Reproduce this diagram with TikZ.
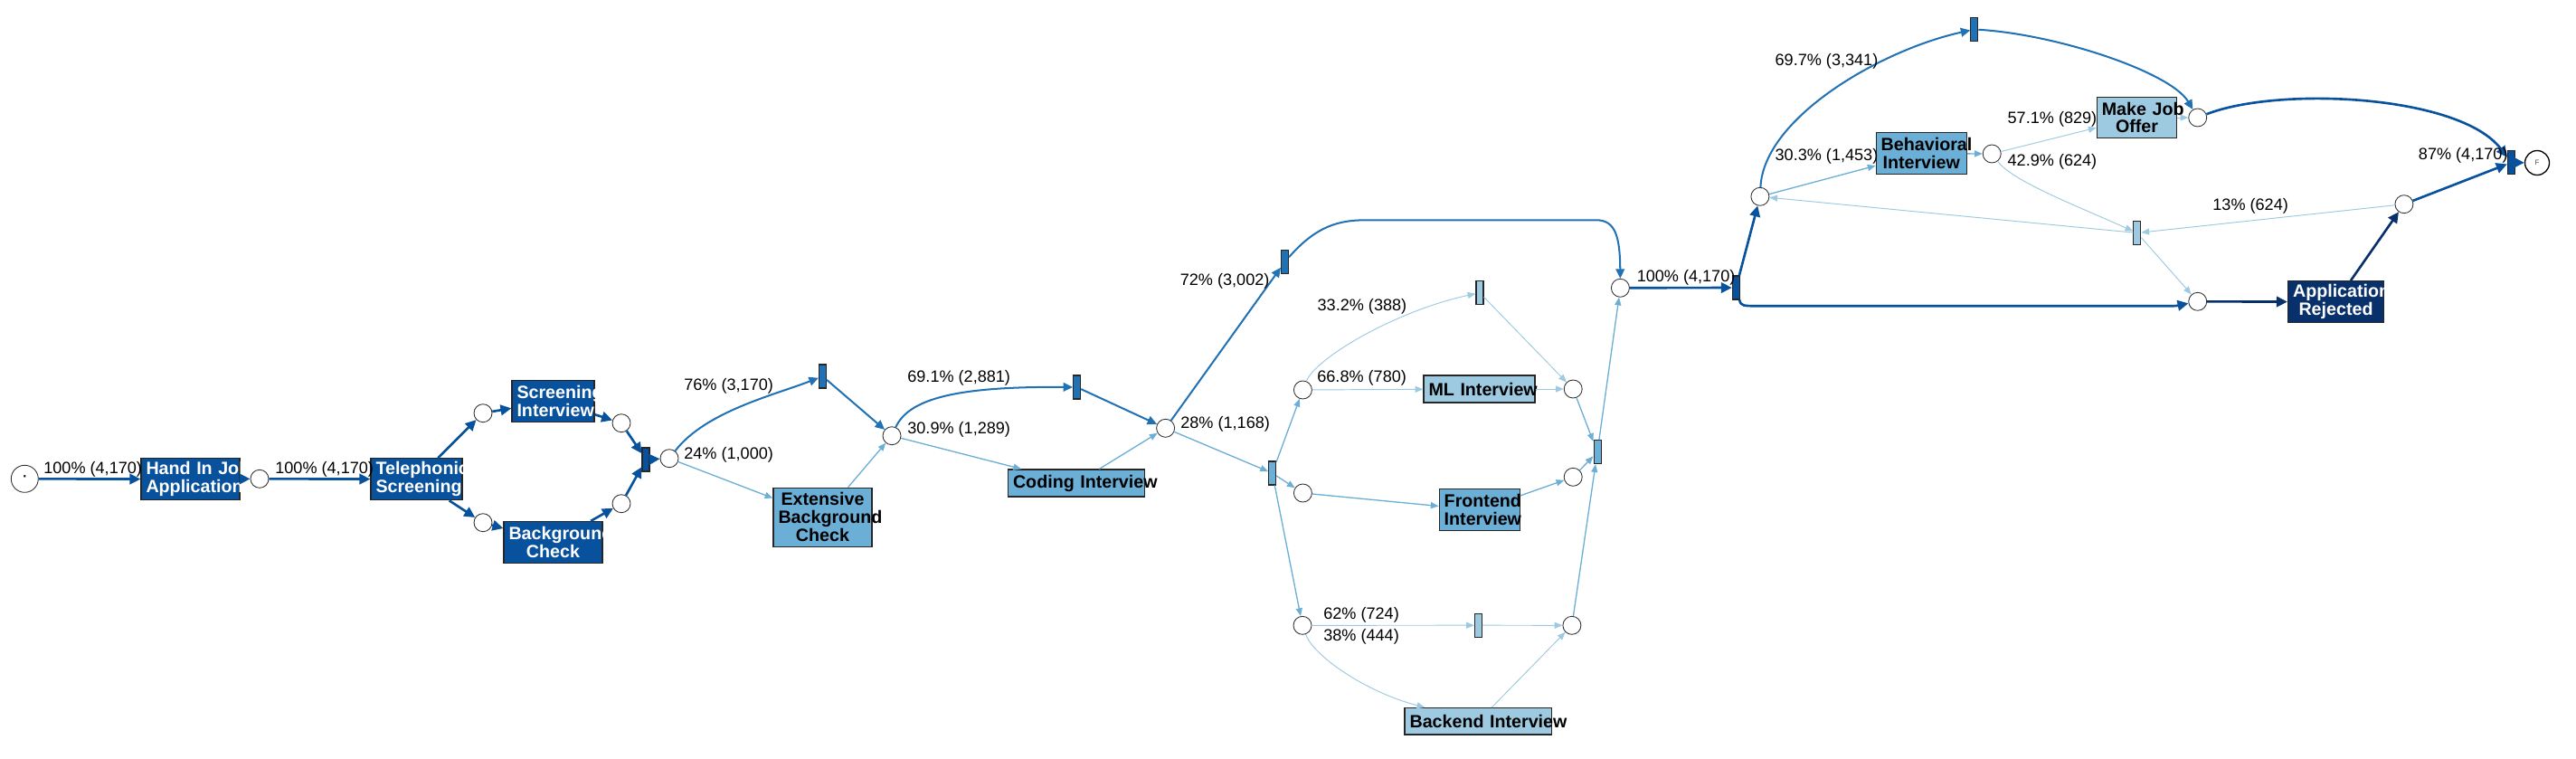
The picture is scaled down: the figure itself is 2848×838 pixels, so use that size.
\documentclass[tikz,border=0pt]{standalone}
\usepackage{fontspec}
\setmainfont{Liberation Sans}
\usepackage{tikz}
\usetikzlibrary{arrows.meta}

\definecolor{blueA}{HTML}{08306B}
\definecolor{blueB}{HTML}{08519C}
\definecolor{blueC}{HTML}{2171B5}
\definecolor{blueD}{HTML}{6BAED6}
\definecolor{blueE}{HTML}{9ECAE1}

\newcommand{\lblfont}{\fontsize{10.3}{12}\selectfont}
\newcommand{\boxfont}{\bfseries\fontsize{11.2}{11.3}\selectfont}

\tikzset{
    place/.style={circle, draw=black!80, line width=0.5pt, fill=white, minimum size=0.4cm, inner sep=0pt},
    trans/.style={rectangle, draw=black!85, line width=0.6pt, minimum width=0.16cm, minimum height=0.52cm, inner sep=0pt},
    task/.style={rectangle, draw=black!85, line width=0.7pt, inner xsep=0.11cm, inner ysep=0pt, align=center, font=\boxfont},
    lbl/.style={anchor=west, inner sep=0pt, font=\lblfont},
    ethick/.style={line width=1.5pt, blueB, -{Triangle[length=6.8pt,width=6.5pt]}},
    erej/.style={line width=1.5pt, blueA, -{Triangle[length=6.8pt,width=6.5pt]}},
    emed/.style={line width=1.15pt, blueC, -{Triangle[length=6pt,width=5.5pt]}},
    ethin/.style={line width=0.75pt, blueD, -{Triangle[length=5pt,width=4pt]}},
    elight/.style={line width=0.55pt, blueE, -{Triangle[length=5pt,width=4pt]}}
}

\begin{document}
\begin{tikzpicture}[x=0.02cm, y=-0.02cm]
        \useasboundingbox (0,0) rectangle (2848,838);

        % activities
        \node[task, fill=blueB, text=white, text width=1.96cm, minimum height=0.92cm] (hand) at (210.5,529.7) {\mbox{Hand In Job}\\\mbox{Application}};
        \node[task, fill=blueB, text=white, text width=1.80cm, minimum height=0.92cm] (tel) at (460.5,529.7) {\mbox{Telephonic}\\\mbox{Screening}};
        \node[task, fill=blueB, text=white, text width=1.60cm, minimum height=0.92cm] (scr) at (611.5,443.3) {\mbox{Screening}\\\mbox{Interview}};
        \node[task, fill=blueB, text=white, text width=1.96cm, minimum height=0.92cm] (bgc) at (611.5,599.5) {\mbox{Background}\\\mbox{Check}};
        \node[task, fill=blueD, text width=1.96cm, minimum height=1.30cm] (ebc) at (909.5,571.7) {\mbox{Extensive}\\\mbox{Background}\\\mbox{Check}};
        \node[task, fill=blueD, text width=2.80cm, minimum height=0.60cm] (cod) at (1190,534) {\mbox{Coding Interview}};
        \node[task, fill=blueE, text width=2.24cm, minimum height=0.60cm] (ml) at (1635.5,430) {\mbox{ML Interview}};
        \node[task, fill=blueD, text width=1.56cm, minimum height=0.92cm] (fe) at (1635.7,563.8) {\mbox{Frontend}\\\mbox{Interview}};
        \node[task, fill=blueE, text width=3.03cm, minimum height=0.59cm] (be) at (1634.3,797.3) {\mbox{Backend Interview}};
        \node[task, fill=blueD, text width=1.78cm, minimum height=0.92cm] (beh) at (2124.2,169.7) {\mbox{Behavioral}\\\mbox{Interview}};
        \node[task, fill=blueE, text width=1.55cm, minimum height=0.91cm] (mjo) at (2362.5,130) {\mbox{Make Job}\\\mbox{Offer}};
        \node[task, fill=blueA, text=white, text width=1.90cm, minimum height=0.92cm] (rej) at (2582.5,333.7) {\mbox{Application}\\\mbox{Rejected}};

        % places
        \node[place, minimum size=0.6cm] (start) at (27.3,529.3) {\fontsize{12}{12}\selectfont ·};
        \node[place] (p1) at (287,529.3) {};
        \node[place] (p2a) at (534,456.7) {};
        \node[place] (p2b) at (534,577.7) {};
        \node[place] (p3a) at (687,467.7) {};
        \node[place] (p3b) at (687,556.7) {};
        \node[place] (p4) at (740,506.7) {};
        \node[place] (p5) at (986,481.7) {};
        \node[place] (p6) at (1288.6,473.3) {};
        \node[place] (p7) at (1791.4,318.3) {};
        \node[place] (p8) at (1440.4,431) {};
        \node[place] (p9) at (1739.2,430) {};
        \node[place] (p10) at (1440.4,545) {};
        \node[place] (p11) at (1739.2,527.3) {};
        \node[place] (p12) at (1440,691.3) {};
        \node[place] (p13) at (1737.9,691.3) {};
        \node[place] (p14) at (1945.9,217.3) {};
        \node[place] (p15) at (2202.2,170) {};
        \node[place] (p16) at (2429.7,130) {};
        \node[place] (p17) at (2429.7,333.3) {};
        \node[place] (p18) at (2657.9,225.7) {};
        \node[place, minimum size=0.54cm, line width=0.75pt, draw=black] (fin) at (2805,180) {\fontsize{4.5}{4.5}\selectfont\color{black!70}F};

        % transitions
        \node[trans, fill=blueB] (t1) at (714,508) {};
        \node[trans, fill=blueC] (t2) at (909.5,416) {};
        \node[trans, fill=blueC] (t3) at (1190.6,428) {};
        \node[trans, fill=blueC] (t4) at (1420.5,289.5) {};
        \node[trans, fill=blueD] (t5) at (1406.6,523) {};
        \node[trans, fill=blueB] (t6) at (1919.3,318) {};
        \node[trans, fill=blueE] (t7) at (1636,323.7) {};
        \node[trans, fill=blueD] (t8) at (1766,499.7) {};
        \node[trans, fill=blueE] (t9) at (1634.4,691.2) {};
        \node[trans, fill=blueC] (t10) at (2182.9,32.5) {};
        \node[trans, fill=blueE] (t11) at (2362.8,257.5) {};
        \node[trans, fill=blueB] (t12) at (2776.3,179.7) {};

        % screening part
        \draw[ethick] (start) -- (hand);
        \draw[ethick] (hand) -- (p1);
        \draw[ethick] (p1) -- (tel);
        \draw[ethick] (tel) -- (p2a);
        \draw[ethick] (tel) -- (p2b);
        \draw[ethick] (p2a) -- (scr);
        \draw[ethick] (p2b) -- (bgc);
        \draw[ethick] (scr) -- (p3a);
        \draw[ethick] (bgc) -- (p3b);
        \draw[ethick] (p3a) -- (t1);
        \draw[ethick] (p3b) -- (t1);
        \draw[ethick] (t1) -- (p4);

        % background check and coding
        \draw[emed] (p4) .. controls (780,455) and (855,437) .. (t2);
        \draw[ethin] (p4) -- (ebc);
        \draw[emed] (t2) -- (p5);
        \draw[ethin] (ebc) -- (p5);
        \draw[emed] (p5) .. controls (1005,440) and (1060,427) .. (t3);
        \draw[ethin] (p5) -- (cod);
        \draw[emed] (t3) -- (p6);
        \draw[ethin] (cod) -- (p6);
        \draw[emed] (p6) -- (t4);
        \draw[ethin] (p6) -- (t5);
        \draw[emed] (t4) .. controls (1455,250) and (1480,243.3) .. (1510,243.3) -- (1765,243.3) .. controls (1786,243.3) and (1791,262) .. (p7);

        % technical interviews
        \draw[ethin] (t5) -- (p8);
        \draw[ethin] (t5) -- (p10);
        \draw[ethin] (t5) -- (p12);
        \draw[elight] (p8) .. controls (1455,395) and (1545,343) .. (t7);
        \draw[elight] (p8) -- (ml);
        \draw[elight] (t7) -- (p9);
        \draw[elight] (ml) -- (p9);
        \draw[ethin] (p10) -- (fe);
        \draw[ethin] (fe) -- (p11);
        \draw[elight] (p12) -- (t9);
        \draw[elight] (p12) .. controls (1452,725) and (1510,765) .. (be);
        \draw[elight] (t9) -- (p13);
        \draw[elight] (be) -- (p13);
        \draw[ethin] (p9) -- (t8);
        \draw[ethin] (p11) -- (t8);
        \draw[ethin] (p13) -- (t8);
        \draw[ethin] (t8) -- (p7);

        % decision part
        \draw[ethick] (p7) -- (t6);
        \draw[ethick] (t6) -- (p14);
        \draw[ethick] (t6) .. controls (1925,338.3) .. (1950,338.3) -- (2385,338.3) .. controls (2405,338.3) .. (p17);
        \draw[emed] (p14) .. controls (1950,130) and (2080,55) .. (t10);
        \draw[ethin] (p14) -- (beh);
        \draw[emed] (t10) .. controls (2275,38) and (2400,80) .. (p16);
        \draw[ethin] (beh) -- (p15);
        \draw[elight] (p15) -- (mjo);
        \draw[elight] (p15) .. controls (2225,200) and (2290,225) .. (t11);
        \draw[elight] (mjo) -- (p16);
        \draw[elight] (t11) -- (p14);
        \draw[elight] (t11) -- (p17);
        \draw[erej] (p17) -- (rej);
        \draw[erej] (rej) -- (p18);
        \draw[elight] (p18) -- (t11);
        \draw[ethick] (p18) -- (t12);
        \draw[ethick] (p16) .. controls (2520,95) and (2720,105) .. (t12);
        \draw[ethick] (t12) -- (fin);

        % edge labels
        \node[lbl] (l1) at (48,518.5) {100\% (4,170)};
        \node[lbl] (l2) at (304,518.5) {100\% (4,170)};
        \node[lbl] (l3) at (756,426.7) {76\% (3,170)};
        \node[lbl] (l4) at (756,502.7) {24\% (1,000)};
        \node[lbl] (l5) at (1003,418.3) {69.1\% (2,881)};
        \node[lbl] (l6) at (1003,475) {30.9\% (1,289)};
        \node[lbl] (l7) at (1304.5,310.7) {72\% (3,002)};
        \node[lbl] (l8) at (1305,469.3) {28\% (1,168)};
        \node[lbl] (l9) at (1456.3,339.3) {33.2\% (388)};
        \node[lbl] (l10) at (1456,418.3) {66.8\% (780)};
        \node[lbl] (l11) at (1463,680) {62\% (724)};
        \node[lbl] (l12) at (1463,704) {38\% (444)};
        \node[lbl] (l13) at (1809.4,306.7) {100\% (4,170)};
        \node[lbl] (l14) at (1962.3,68.3) {69.7\% (3,341)};
        \node[lbl] (l15) at (1962.3,173.3) {30.3\% (1,453)};
        \node[lbl] (l16) at (2219.3,132.3) {57.1\% (829)};
        \node[lbl] (l17) at (2219.3,179) {42.9\% (624)};
        \node[lbl] (l18) at (2446,228.3) {13\% (624)};
        \node[lbl] (l19) at (2673.6,171.7) {87\% (4,170)};
    \end{tikzpicture}
\end{document}
